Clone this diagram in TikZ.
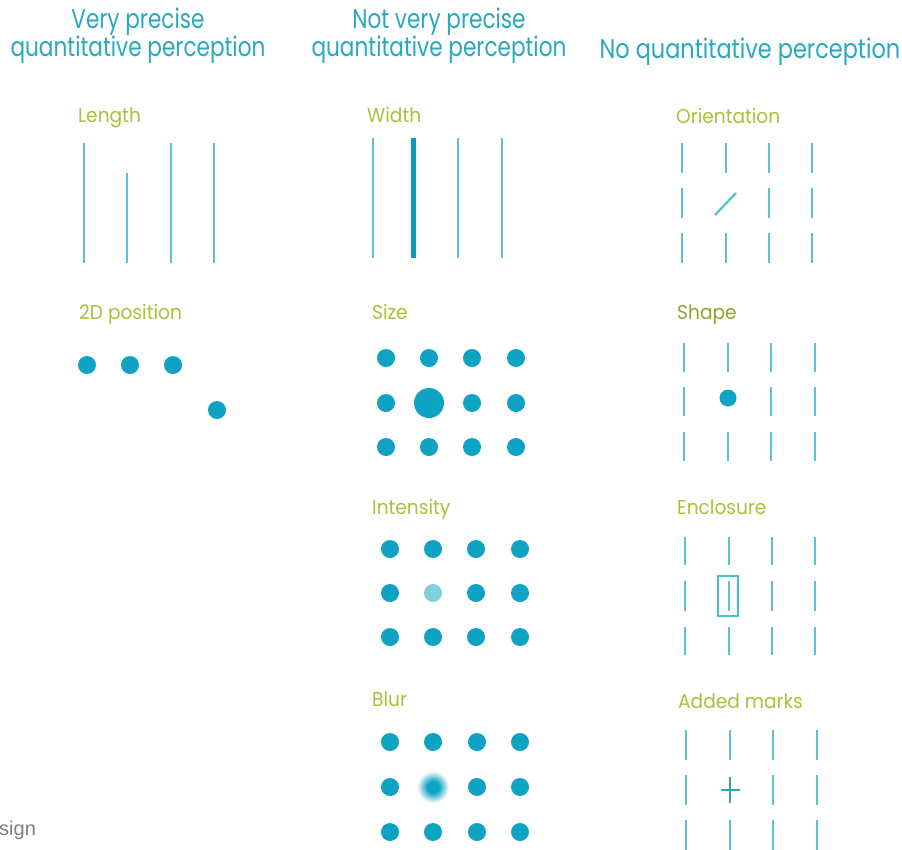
\documentclass[tikz,border=0pt]{standalone}
\usepackage{fontspec}
\setmainfont{Poppins}
\newfontfamily\hfont{Poppins}[FakeStretch=0.80]
\newfontfamily\hfontb{Poppins}[FakeStretch=0.83]
\newfontfamily\lfont{Poppins}[FakeStretch=0.93]
\newfontfamily\gfont{Liberation Sans}
\definecolor{headc}{HTML}{27A9BF}
\definecolor{labc}{HTML}{A8C23A}
\definecolor{linec}{HTML}{5CC0D3}
\definecolor{thickc}{HTML}{0F9BB5}
\definecolor{dotc}{HTML}{0EA2C3}
\definecolor{lightdot}{HTML}{80D0DC}
\definecolor{plusc}{HTML}{3AA0B0}
\definecolor{grayc}{HTML}{7F7F7F}
\pgfdeclareradialshading{blurdot}{\pgfpoint{0bp}{0bp}}{color(0bp)=(dotc); color(9bp)=(dotc); color(25bp)=(white); color(50bp)=(white)}
\begin{document}
\begin{tikzpicture}[x=1pt,y=-1pt,
  header/.style={font=\hfont\fontsize{27}{30}\selectfont, text=headc, inner sep=0pt, anchor=base},
  lab/.style={font=\lfont\fontsize{20}{22}\selectfont, text=labc, inner sep=0pt, anchor=base west},
  tickln/.style={draw=linec, line width=2.3pt},
  thickln/.style={draw=thickc, line width=5pt},
  dotn/.style={circle, fill=dotc, draw=none, inner sep=0pt, minimum size=18pt},
]
\useasboundingbox (0,0) rectangle (902,849);
\fill[white] (0,0) rectangle (902,849);

% headers
\node[header] (h1a) at (138,28) {Very precise};
\node[header] (h1b) at (138,56) {quantitative perception};
\node[header] (h2a) at (439,28) {Not very precise};
\node[header] (h2b) at (439,56) {quantitative perception};
\node[header, font=\hfontb\fontsize{27}{30}\selectfont] (h3) at (750,58) {No quantitative perception};

% labels
\node[lab] (lLength) at (78,122) {Length};
\node[lab] (lWidth) at (367,122) {Width};
\node[lab] (lOrient) at (676,123) {Orientation};
\node[lab] (l2D) at (79,319) {2D position};
\node[lab] (lSize) at (372,319) {Size};
\node[lab, text=labc!85!black] (lShape) at (677,319) {Shape};
\node[lab] (lInt) at (372,514) {Intensity};
\node[lab] (lEncl) at (677,514) {Enclosure};
\node[lab] (lBlur) at (372,706) {Blur};
\node[lab] (lAdded) at (678,708) {Added marks};

% Length
\draw[tickln] (84,143) -- (84,263);
\draw[tickln] (127,173) -- (127,263);
\draw[tickln] (171,143) -- (171,263);
\draw[tickln] (214,143) -- (214,263);

% Width
\draw[tickln] (373,138) -- (373,258);
\draw[thickln] (413,138) -- (413,258);
\draw[tickln] (458,138) -- (458,258);
\draw[tickln] (502,138) -- (502,258);

% Orientation
\foreach \x in {682,726,769,812}{
  \draw[tickln] (\x,143) -- (\x,173);
  \draw[tickln] (\x,233) -- (\x,263);
}
\foreach \x in {682,769,812}{ \draw[tickln] (\x,188) -- (\x,218); }
\draw[tickln] (715,215) -- (736,193);

% 2D position
\foreach \x/\n in {87/a,130/b,173/c}{ \node[dotn] (p\n) at (\x,365) {}; }
\node[dotn] (pd) at (217,410) {};

% Size
\foreach \x [count=\i] in {386,429,472,516}{
  \node[dotn] (s1\i) at (\x,358) {};
  \node[dotn] (s3\i) at (\x,447) {};
}
\foreach \x [count=\i] in {386,472,516}{ \node[dotn] (s2\i) at (\x,403) {}; }
\node[dotn, minimum size=30pt] (sbig) at (429,403) {};

% Shape
\foreach \x in {684,728,771,815}{
  \draw[tickln] (\x,343) -- (\x,372);
  \draw[tickln] (\x,432) -- (\x,461);
}
\foreach \x in {684,771,815}{ \draw[tickln] (\x,387) -- (\x,416); }
\node[dotn, minimum size=17pt] (shdot) at (728,398) {};

% Intensity
\foreach \x [count=\i] in {390,433,476,520}{
  \node[dotn] (i1\i) at (\x,549) {};
  \node[dotn] (i3\i) at (\x,637) {};
}
\foreach \x [count=\i] in {390,476,520}{ \node[dotn] (i2\i) at (\x,593) {}; }
\node[dotn, fill=lightdot] (ilight) at (433,593) {};

% Enclosure
\foreach \x in {685,729,772,815}{
  \draw[tickln] (\x,537) -- (\x,565);
  \draw[tickln] (\x,581) -- (\x,611);
  \draw[tickln] (\x,627) -- (\x,655);
}
\draw[draw=linec!80!thickc, line width=2pt] (718,576) rectangle (738,616);

% Blur
\foreach \x [count=\i] in {390,433,477,520}{
  \node[dotn] (b1\i) at (\x,742) {};
  \node[dotn] (b3\i) at (\x,832) {};
}
\foreach \x [count=\i] in {390,477,520}{ \node[dotn] (b2\i) at (\x,787) {}; }
\shade[shading=blurdot] (433,787) circle (16);

% Added marks
\foreach \x in {686,730,773,817}{
  \draw[tickln] (\x,730) -- (\x,760);
  \draw[tickln] (\x,820) -- (\x,852);
}
\foreach \x in {686,773,817}{ \draw[tickln] (\x,775) -- (\x,805); }
\draw[draw=plusc, line width=1.5pt] (730,777) -- (730,803);
\draw[draw=plusc, line width=1.5pt] (721,790) -- (740,790);

% cut-off footer text
\node[font=\gfont\fontsize{20}{22}\selectfont, text=grayc, inner sep=0pt, anchor=base west] (foot) at (-1,835) {sign};
\end{tikzpicture}
\end{document}
